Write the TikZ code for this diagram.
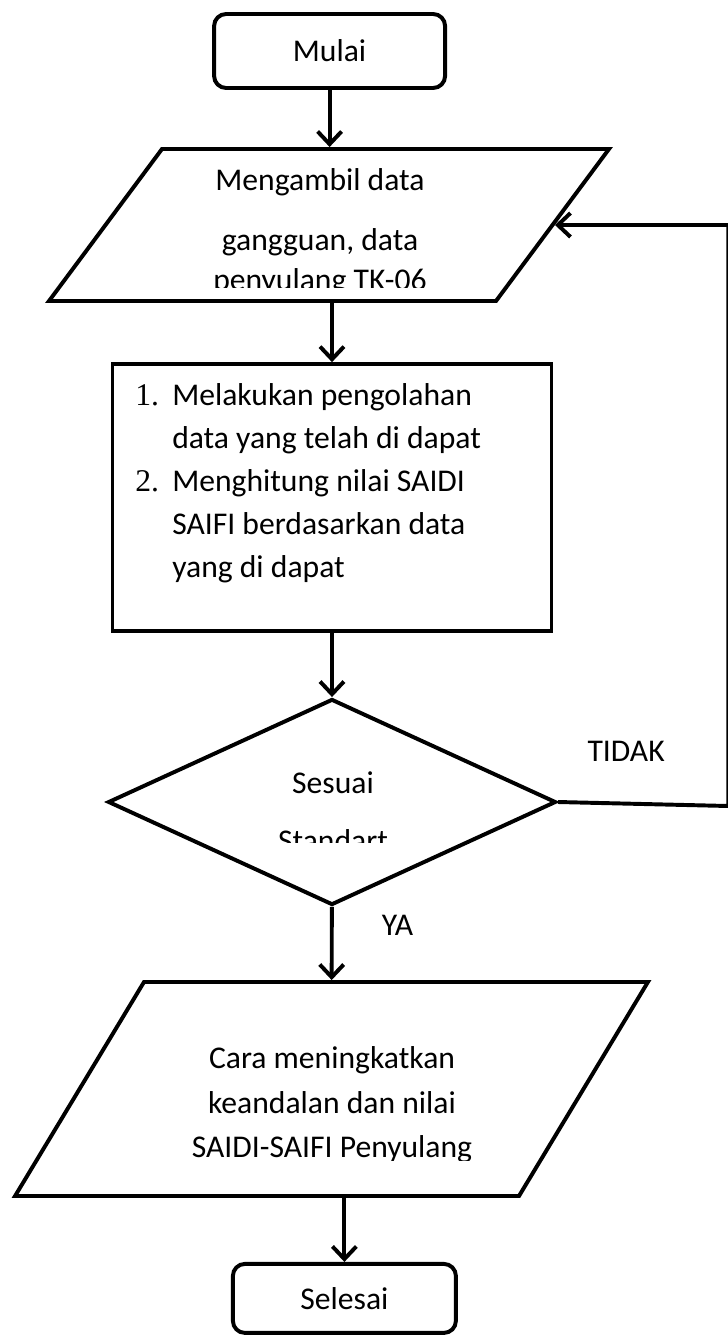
\documentclass[tikz,border=0pt]{standalone}
\usepackage{fontspec}
\setmainfont{Carlito}
\newfontfamily\numfont{Liberation Serif}
\usetikzlibrary{shapes,arrows.meta,positioning,calc}

\newcommand{\flowfont}[1][30.6]{\fontsize{22.5}{#1}\selectfont}

\begin{document}
\begin{tikzpicture}[
    terminal/.style={rectangle, draw, line width=2.8pt, rounded corners=0.3cm, minimum width=5.7cm, minimum height=1.85cm, font=\flowfont},
    io/.style={trapezium, draw, line width=2.8pt},
    process/.style={rectangle, draw, line width=2.8pt, minimum width=10.975cm, minimum height=6.675cm},
    decision/.style={diamond, draw, line width=2.8pt, minimum width=11.2cm, minimum height=5.15cm},
    flowtext/.style={font=\flowfont, inner sep=0pt},
    arrow/.style={line width=2.8pt, -{Straight Barb[length=9pt,width=17pt]}}]

    \useasboundingbox (-8.3,0) rectangle (9.875,-33.45);

    \node[terminal, minimum width=5.775cm] (mulai) at (-0.06,-1.275) {Mulai};
    \node[io, trapezium left angle=53.37, trapezium right angle=126.63, inner xsep=4.175cm, inner ysep=1.9cm] (ambil) at (-0.075,-5.625) {};
    \node[process] (olah) at (0,-12.44) {};
    \node[decision] (cek) at (0,-20.05) {};
    \node[io, trapezium left angle=58.93, trapezium right angle=121.07, inner xsep=4.6875cm, inner ysep=2.675cm] (cara) at (-0.0125,-27.225) {};
    \node[terminal, minimum width=5.575cm, minimum height=1.725cm] (selesai) at (0.31,-32.46) {Selesai};

    % texts, cut off at the bottom like the text boxes of the original
    \begin{scope}
      \clip (-8.3,0) rectangle (9.875,-7.175);
      \node[flowtext, font={\flowfont[28.5]}, anchor=base] (ambiltext) at (-0.3,-4.75) {\begin{tabular}[t]{@{}c@{}}Mengambil data\\[14.2pt] gangguan, data\\ penyulang TK-06\end{tabular}};
    \end{scope}
    \node[flowtext, anchor=base west] (olahtext) at (-4.925,-10.125) {\begin{tabular}[t]{@{}p{26.3pt}@{}l@{}}{\numfont 1.} & Melakukan pengolahan\\ & data yang telah di dapat\\ {\numfont 2.} & Menghitung nilai SAIDI\\ & SAIFI berdasarkan data\\ & yang di dapat\end{tabular}};
    \begin{scope}
      \clip (-8.3,-18) rectangle (9.875,-21.05);
      \node[flowtext, font={\flowfont[41.3]}, anchor=base] (cektext) at (0.025,-19.825) {\begin{tabular}[t]{@{}c@{}}Sesuai\\ Standart\end{tabular}};
    \end{scope}
    \begin{scope}
      \clip (-8.3,-25) rectangle (9.875,-29.0);
      \node[flowtext, font={\flowfont[32]}, anchor=base] (caratext) at (0,-26.7) {\begin{tabular}[t]{@{}c@{}}Cara meningkatkan\\ keandalan dan nilai\\ SAIDI-SAIFI Penyulang\end{tabular}};
    \end{scope}

    \coordinate (balik) at (9.91,-20.15);

    \draw[arrow] (mulai) -- (mulai |- ambil.north);
    \draw[arrow] (ambil.south -| olah) -- (olah);
    \draw[arrow] (olah) -- (cek);
    \draw[arrow] (cek) -- node[flowtext, pos=0.25, right=1.2cm] {YA} (cara);
    \draw[arrow] (cek.east) -- node[flowtext, pos=0.4, above=1.0cm] {TIDAK} (balik) |- (ambil.east);
    \draw[arrow] (cara.south -| selesai) -- (selesai);
\end{tikzpicture}
\end{document}
